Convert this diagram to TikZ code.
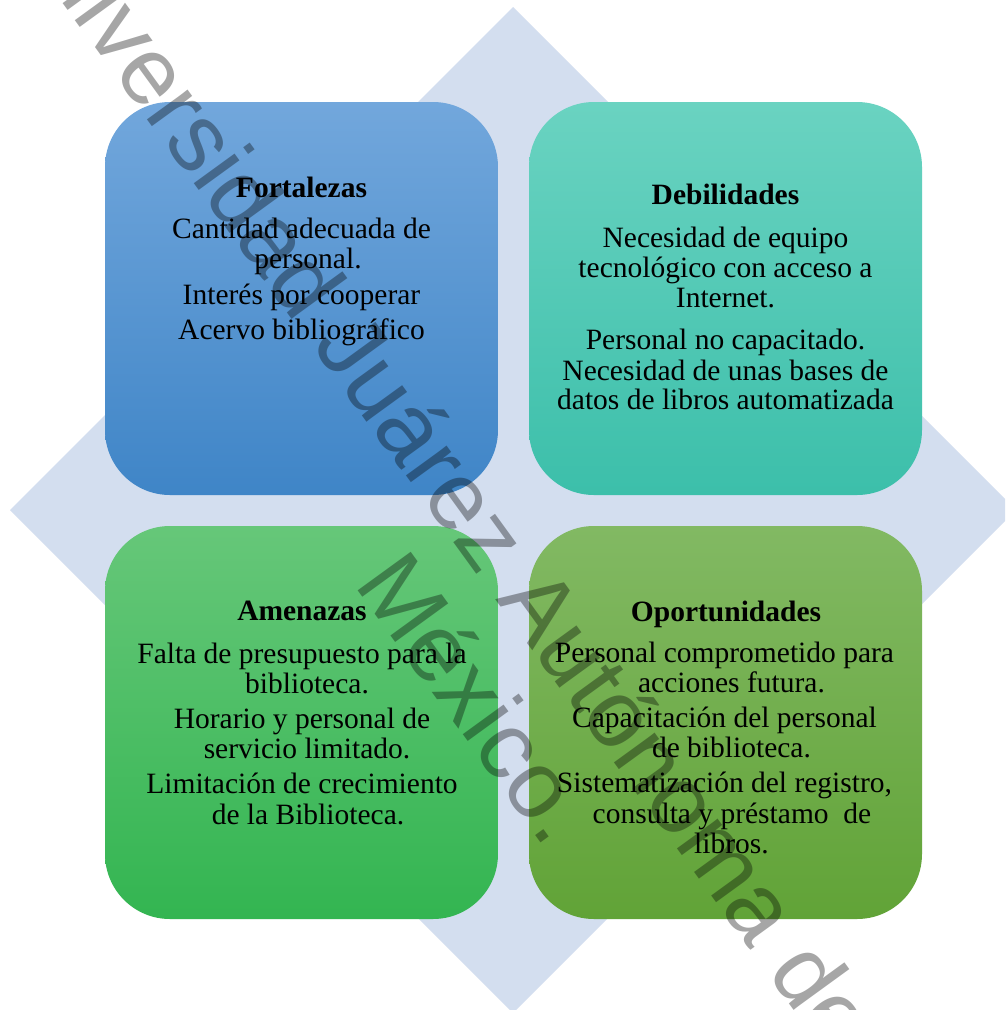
\documentclass[tikz,border=0pt]{standalone}
\usepackage{fontspec}
\setmainfont{Liberation Serif}
\newfontfamily\wmfont{Liberation Sans}
\definecolor{diam}{HTML}{D3DEEF}
\definecolor{tlA}{HTML}{72A7DC}
\definecolor{tlB}{HTML}{5499DB}
\definecolor{tlC}{HTML}{3F85C7}
\definecolor{trA}{HTML}{6AD3C1}
\definecolor{trB}{HTML}{4DCFB9}
\definecolor{trC}{HTML}{3CBFAA}
\definecolor{blA}{HTML}{66C779}
\definecolor{blB}{HTML}{43C15E}
\definecolor{blC}{HTML}{33B551}
\definecolor{brA}{HTML}{82B963}
\definecolor{brB}{HTML}{6BAD45}
\definecolor{brC}{HTML}{61A337}
\newcommand\firstln{\rule{0pt}{24pt}}
\begin{document}
\begin{tikzpicture}[x=1pt,y=-1pt,
  card/.style={rounded corners=65pt, minimum width=393pt, minimum height=393pt, inner sep=0pt, draw=none},
  txt/.style={align=center, inner sep=0pt, anchor=north, text=black, font=\fontsize{29.5}{30}\selectfont},
  wm/.style={anchor=base west, inner sep=0pt, rotate=-54, text=black, text opacity=0.35, font=\wmfont\fontsize{95.4}{100}\selectfont}]
\useasboundingbox (0,0) rectangle (1005,1010);
\clip (0,0) rectangle (1005,1010);
\fill[white] (0,0) rectangle (1005,1010);
% background diamond
\fill[diam] (513,7) -- (1016,510) -- (513,1013) -- (10,510) -- cycle;
% cards
\node[card, top color=tlA, middle color=tlB, bottom color=tlC] (fort) at (301.5,298.5) {};
\node[card, top color=trA, middle color=trB, bottom color=trC] (debi) at (725.5,298.5) {};
\node[card, top color=blA, middle color=blB, bottom color=blC] (amen) at (301.5,722.5) {};
\node[card, top color=brA, middle color=brB, bottom color=brC] (opor) at (725.5,722.5) {};
% texts
\node[txt] (fortxt) at (301.5,173) {\firstln\textbf{Fortalezas}\\[11pt]
  Cantidad adecuada de\\ \hspace*{13pt}personal.\\[6pt]
  Interés por cooperar\\[5pt] Acervo bibliográfico};
\node[txt] (debtxt) at (725.5,180) {\firstln\textbf{Debilidades}\\[13pt]
  Necesidad de equipo\\ tecnológico con acceso a\\ Internet.\\[12pt]
  Personal no capacitado.\\[1pt] Necesidad de unas bases de\\[-1pt]
  datos de libros automatizada};
\node[txt] (amentxt) at (302,596) {\firstln\textbf{Amenazas}\\[13pt]
  Falta de presupuesto para la\\ \hspace*{10pt}biblioteca.\\[5pt]
  Horario y personal de\\ \hspace*{10pt}servicio limitado.\\[5pt]
  Limitación de crecimiento\\[1pt] \hspace*{12pt}de la Biblioteca.};
\node[txt] (oportxt) at (724.5,597) {\firstln\hspace*{3pt}\textbf{Oportunidades}\\[11pt]
  Personal comprometido para\\ \hspace*{14pt}acciones futura.\\[5pt]
  Capacitación del personal\\ \hspace*{14pt}de biblioteca.\\[5pt]
  Sistematización del registro,\\[1pt] \hspace*{15pt}consulta y préstamo\ \ de\\
  \hspace*{14pt}libros.};
% watermark
\node[wm] (wmline) at (0,-83) {Universidad Juárez Autónoma de};
\node[wm] (wmmex) at (353,584) {México.};
\end{tikzpicture}
\end{document}
